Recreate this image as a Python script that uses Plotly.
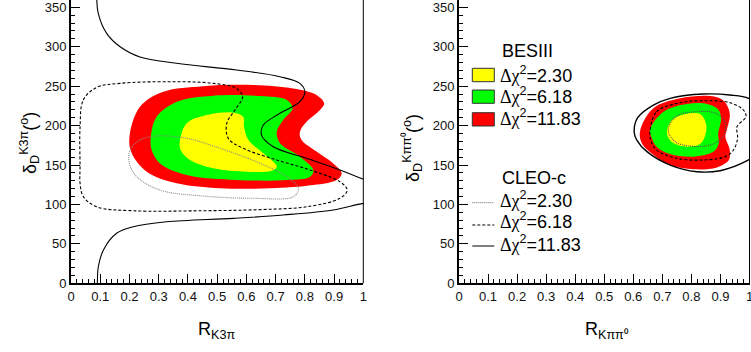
import plotly.graph_objects as go

W, H = 751, 352

# ---------------- Left panel: K3pi ----------------
k3pi_bes_1183_x = [0.200, 0.236, 0.316, 0.453, 0.624, 0.760, 0.840, 0.866, 0.852, 0.806, 0.783, 0.789, 0.840, 0.897, 0.926, 0.909, 0.829, 0.681, 0.510, 0.362, 0.259, 0.208]
k3pi_bes_1183_y = [186.0, 224.0, 243.0, 250.0, 251.5, 247.0, 238.8, 228.0, 219.8, 205.0, 192.0, 181.7, 167.0, 152.0, 139.5, 131.0, 124.6, 120.5, 120.5, 126.8, 141.5, 164.8]

k3pi_bes_618_x = [0.273, 0.293, 0.362, 0.487, 0.647, 0.738, 0.758, 0.726, 0.704, 0.715, 0.783, 0.829, 0.818, 0.738, 0.567, 0.396, 0.304, 0.276]
k3pi_bes_618_y = [186.0, 211.3, 230.3, 238.0, 237.5, 232.5, 222.0, 207.0, 192.0, 177.5, 160.6, 143.7, 135.2, 131.0, 131.0, 137.3, 152.0, 169.0]

k3pi_bes_230_x = [0.373, 0.396, 0.464, 0.555, 0.589, 0.592, 0.607, 0.658, 0.704, 0.687, 0.601, 0.487, 0.407, 0.375]
k3pi_bes_230_y = [181.7, 203.0, 213.4, 216.4, 211.3, 198.6, 181.7, 164.8, 147.9, 142.8, 141.5, 145.8, 156.4, 169.0]

k3pi_cleo_230_x = [0.202, 0.236, 0.293, 0.396, 0.510, 0.647, 0.738, 0.778, 0.761, 0.624, 0.453, 0.304, 0.225, 0.200, 0.202]
k3pi_cleo_230_y = [169.0, 181.7, 186.8, 183.9, 171.2, 152.2, 135.2, 120.5, 109.8, 107.8, 110.7, 118.3, 135.2, 152.0, 169.0]

k3pi_cleo_618_x = [0.031, 0.042, 0.088, 0.168, 0.339, 0.487, 0.567, 0.587, 0.561, 0.533, 0.538, 0.589, 0.704, 0.818, 0.920, 0.945, 0.920, 0.806, 0.650, 0.441, 0.213, 0.088, 0.042, 0.031, 0.031, 0.031]
k3pi_cleo_618_y = [198.6, 232.5, 248.5, 253.6, 255.7, 253.6, 247.0, 236.6, 219.8, 203.0, 183.9, 171.2, 156.4, 143.7, 128.8, 118.3, 107.8, 97.1, 93.5, 92.0, 92.0, 97.0, 110.0, 127.0, 148.0, 198.6]

k3pi_cleo_1183_top_x = [0.088, 0.0935, 0.122, 0.168, 0.236, 0.361, 0.567, 0.715, 0.783, 0.800, 0.783, 0.715, 0.658, 0.652, 0.692, 0.806, 0.920, 1.000, 1.05]
k3pi_cleo_1183_top_y = [365.0, 342.0, 317.0, 300.0, 287.0, 279.0, 270.5, 262.0, 253.6, 243.0, 230.3, 215.6, 200.7, 188.0, 173.2, 158.5, 143.7, 131.9, 125.0]
k3pi_cleo_1183_bot_x = [1.05, 1.000, 0.897, 0.726, 0.555, 0.327, 0.213, 0.156, 0.111, 0.0935, 0.090, 0.089]
k3pi_cleo_1183_bot_y = [103.0, 101.4, 93.0, 86.6, 82.4, 78.0, 71.8, 63.4, 42.3, 21.0, 0.0, -10.0]

# ---------------- Right panel: Kpipi0 ----------------
kpp_bes_1183_x = [0.624, 0.669, 0.761, 0.865, 0.911, 0.932, 0.922, 0.917, 0.932, 0.929, 0.888, 0.808, 0.727, 0.655, 0.627]
kpp_bes_1183_y = [194.4, 222.0, 234.6, 237.5, 231.6, 215.6, 194.4, 186.0, 169.0, 156.4, 147.0, 144.6, 150.0, 167.0, 179.6]

kpp_bes_618_x = [0.657, 0.704, 0.785, 0.854, 0.894, 0.902, 0.892, 0.894, 0.877, 0.808, 0.727, 0.680, 0.664]
kpp_bes_618_y = [194.4, 217.6, 227.4, 227.4, 219.8, 207.0, 190.0, 177.5, 167.0, 160.6, 164.0, 173.3, 184.0]

kpp_bes_230_x = [0.716, 0.733, 0.779, 0.830, 0.850, 0.848, 0.830, 0.785, 0.739, 0.719]
kpp_bes_230_y = [194.4, 207.0, 214.7, 214.7, 203.0, 188.0, 176.6, 173.3, 177.5, 186.0]

kpp_cleo_230_x = [0.720, 0.746, 0.815, 0.884, 0.917, 0.908, 0.865, 0.796, 0.744, 0.720]
kpp_cleo_230_y = [194.4, 211.3, 217.6, 215.6, 203.0, 186.0, 175.4, 174.0, 179.6, 194.4]

kpp_cleo_618_x = [0.657, 0.680, 0.761, 0.854, 0.933, 0.979, 0.988, 0.957, 0.959, 0.945, 0.916, 0.842, 0.750, 0.680, 0.662, 0.657]
kpp_cleo_618_y = [190.0, 217.6, 229.0, 231.6, 229.0, 219.8, 211.3, 198.6, 184.0, 169.0, 160.6, 156.4, 158.5, 169.0, 179.6, 190.0]

kpp_cleo_1183_x = [0.603, 0.615, 0.669, 0.727, 0.842, 0.933, 0.997, 1.040, 1.055, 1.040, 0.997, 0.899, 0.819, 0.727, 0.647, 0.612, 0.603]
kpp_cleo_1183_y = [192.0, 210.0, 226.0, 234.6, 240.0, 238.8, 234.6, 222.0, 195.0, 168.0, 156.4, 142.8, 141.5, 150.0, 167.0, 181.7, 192.0]

# tick / legend labels
x_tickvals = [0, 0.1, 0.2, 0.3, 0.4, 0.5, 0.6, 0.7, 0.8, 0.9, 1]
x_ticktext = ["0", "0.1", "0.2", "0.3", "0.4", "0.5", "0.6", "0.7", "0.8", "0.9", "1"]
y_tickvals = [0, 50, 100, 150, 200, 250, 300, 350]
chi_values = ["2.30", "6.18", "11.83"]
fill_colors = ["#ffff00", "#00ff00", "#ff0000"]

FONT = "Liberation Sans, Arial, sans-serif"
SERIF = "Liberation Serif, Times New Roman, serif"
legend_labels = ["<span style='font-family:%s'>Δχ</span><sup>2</sup>=%s" % (SERIF, v) for v in chi_values]

fig = go.Figure()

def fill(xs, ys, color, xa, ya):
    fig.add_trace(go.Scatter(x=xs + xs[:1], y=ys + ys[:1], mode="lines", fill="toself",
                             fillcolor=color, line=dict(width=0, shape="spline", smoothing=1.0),
                             xaxis=xa, yaxis=ya, hoverinfo="skip", showlegend=False))

def line(xs, ys, color, dash, xa, ya, width=1.1):
    fig.add_trace(go.Scatter(x=xs, y=ys, mode="lines",
                             line=dict(width=width, color=color, dash=dash, shape="spline", smoothing=1.0),
                             xaxis=xa, yaxis=ya, hoverinfo="skip", showlegend=False))

# left panel
fill(k3pi_bes_1183_x, k3pi_bes_1183_y, fill_colors[2], "x", "y")
fill(k3pi_bes_618_x, k3pi_bes_618_y, fill_colors[1], "x", "y")
fill(k3pi_bes_230_x, k3pi_bes_230_y, fill_colors[0], "x", "y")
line(k3pi_cleo_230_x, k3pi_cleo_230_y, "#888888", "1px,1px", "x", "y")
line(k3pi_cleo_618_x, k3pi_cleo_618_y, "#000000", "3px,2px", "x", "y")
line(k3pi_cleo_1183_top_x, k3pi_cleo_1183_top_y, "#000000", "solid", "x", "y")
line(k3pi_cleo_1183_bot_x, k3pi_cleo_1183_bot_y, "#000000", "solid", "x", "y")

# right panel
fill(kpp_bes_1183_x, kpp_bes_1183_y, fill_colors[2], "x2", "y2")
fill(kpp_bes_618_x, kpp_bes_618_y, fill_colors[1], "x2", "y2")
fill(kpp_bes_230_x, kpp_bes_230_y, fill_colors[0], "x2", "y2")
line(kpp_cleo_230_x, kpp_cleo_230_y, "#555555", "1px,1px", "x2", "y2")
line(kpp_cleo_618_x, kpp_cleo_618_y, "#000000", "3px,2px", "x2", "y2")
line(kpp_cleo_1183_x, kpp_cleo_1183_y, "#000000", "solid", "x2", "y2", width=1.4)

xdom1 = [71 / W, 363.3 / W]
xdom2 = [459 / W, 749.5 / W]
ydom = [1 - 283.3 / H, 1.0]

def xaxis(dom, anchor):
    return dict(domain=dom, anchor=anchor, range=[0, 1], tickvals=x_tickvals, ticktext=x_ticktext,
                ticks="inside", ticklen=9, tickwidth=1, tickcolor="#000", ticklabeloverflow="allow",
                minor=dict(ticks="inside", ticklen=4, dtick=0.02, tickcolor="#000", tickwidth=1),
                showline=True, linewidth=2, linecolor="#000", showgrid=False, zeroline=False,
                tickfont=dict(family=FONT, size=13, color="#111"), fixedrange=True)

def yaxis(anchor):
    return dict(domain=ydom, anchor=anchor, range=[0, 359.3], tickvals=y_tickvals,
                ticks="inside", ticklen=9, tickwidth=1, tickcolor="#000", ticklabeloverflow="allow",
                minor=dict(ticks="inside", ticklen=4, dtick=10, tickcolor="#000", tickwidth=1),
                showline=True, linewidth=2, linecolor="#000", showgrid=False, zeroline=False,
                tickfont=dict(family=FONT, size=13, color="#111"), fixedrange=True)

fig.update_layout(
    width=W, height=H, margin=dict(l=0, r=0, t=0, b=0, autoexpand=False),
    paper_bgcolor="white", plot_bgcolor="white", showlegend=False,
    xaxis=xaxis(xdom1, "y"), yaxis=yaxis("x"),
    xaxis2=xaxis(xdom2, "y2"), yaxis2=yaxis("x2"),
)

shapes = []
# right frame edges
for xa, ya in (("x", "y"), ("x2", "y2")):
    shapes.append(dict(type="line", xref=xa + " domain", yref=ya + " domain", x0=1, x1=1, y0=0, y1=1,
                       line=dict(color="#000", width=1)))

def px(v):
    return v / W

def py(v):
    return 1 - v / H

# legend boxes
box_rows = [(68.3, 81.7), (90.0, 103.3), (112.7, 126.0)]
for (t, b), c in zip(box_rows, fill_colors):
    shapes.append(dict(type="rect", xref="paper", yref="paper", x0=px(472.3), x1=px(494.3),
                       y0=py(b), y1=py(t), fillcolor=c, line=dict(color="#333", width=1)))
# legend lines
line_rows = [(202.7, "#666666", "1px,1px"), (225.0, "#000000", "3px,2px"), (246.0, "#000000", "solid")]
for yy, c, d in line_rows:
    shapes.append(dict(type="line", xref="paper", yref="paper", x0=px(472.3), x1=px(494.3),
                       y0=py(yy), y1=py(yy), line=dict(color=c, width=1, dash=d)))
fig.update_layout(shapes=shapes)

ann = []
LF = dict(family=FONT, size=18, color="#000")
ann.append(dict(text="BESIII", x=px(500), y=py(50.7), xref="paper", yref="paper",
                xanchor="left", yanchor="middle", showarrow=False, font=LF))
for lab, yy in zip(legend_labels, [76.0, 97.3, 119.3]):
    ann.append(dict(text=lab, x=px(498), y=py(yy - 2), xref="paper", yref="paper",
                    xanchor="left", yanchor="middle", showarrow=False, font=LF))
ann.append(dict(text="CLEO-c", x=px(500), y=py(178.3), xref="paper", yref="paper",
                xanchor="left", yanchor="middle", showarrow=False, font=LF))
for lab, yy in zip(legend_labels, [201.0, 222.3, 245.0]):
    ann.append(dict(text=lab, x=px(498), y=py(yy - 2), xref="paper", yref="paper",
                    xanchor="left", yanchor="middle", showarrow=False, font=LF))

TF = dict(family=FONT, size=18, color="#000")
ann.append(dict(text="R<sub>K3π</sub>", x=px(217), y=py(330), xref="paper", yref="paper",
                xanchor="center", yanchor="middle", showarrow=False, font=TF))
ann.append(dict(text="R<sub>Kππ⁰</sub>", x=px(607), y=py(330), xref="paper", yref="paper",
                xanchor="center", yanchor="middle", showarrow=False, font=TF))
ann.append(dict(text="δ<sub>D</sub><sup>K3π</sup>(<sup>o</sup>)", x=px(29), y=py(143), xref="paper", yref="paper",
                xanchor="center", yanchor="middle", showarrow=False, textangle=-90, font=TF))
ann.append(dict(text="δ<sub>D</sub><sup>Kππ⁰</sup>(<sup>o</sup>)", x=px(412), y=py(148), xref="paper", yref="paper",
                xanchor="center", yanchor="middle", showarrow=False, textangle=-90, font=TF))
fig.update_layout(annotations=ann)

fig.write_html("out.html", config={"displayModeBar": False, "staticPlot": True},
               post_script="document.body.style.margin='0';document.body.style.overflow='hidden';")
